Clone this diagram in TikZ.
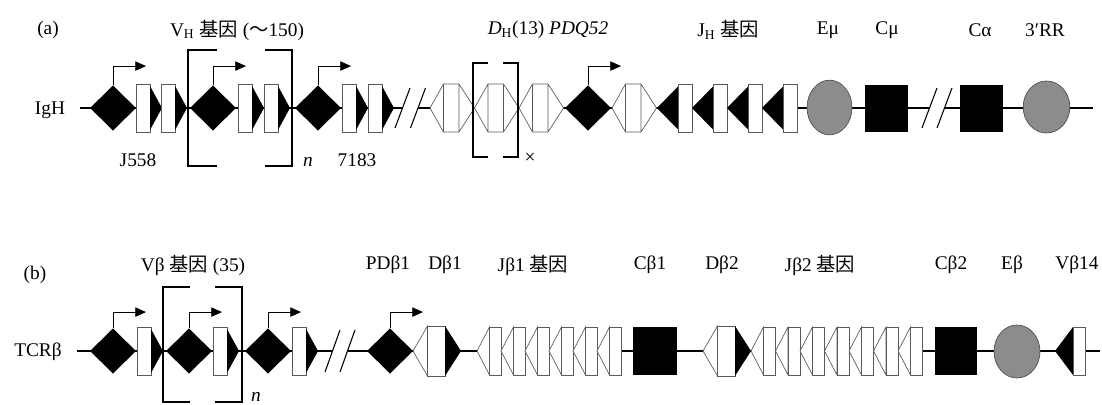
\documentclass[tikz,border=0pt]{standalone}
\usepackage{fontspec}
\setmainfont{Liberation Serif}
\newfontfamily\cjk{Noto Sans CJK SC}
\usetikzlibrary{arrows.meta,positioning,shapes.geometric}
\definecolor{EnhGray} {HTML}{8C8C8C}
\definecolor{SegLine} {HTML}{5A5A5A}

\tikzset{
  backbone/.style={line width=0.9pt},
  brkmark/.style={line width=0.8pt},
  bracket/.style={line width=0.9pt},
  dline/.style={draw=SegLine,fill=white,line width=0.5pt},
  vdiamond/.style={diamond,fill=black,inner sep=0pt,minimum width=34.5pt,minimum height=34pt},
  exonbox/.style={draw=SegLine,fill=white,line width=0.5pt,inner sep=0pt,
                  minimum width=10.5pt,minimum height=36pt},
  cblock/.style={fill=black,inner sep=0pt,minimum width=32.5pt,minimum height=35.5pt},
  enhancer/.style={ellipse,draw=black!70,fill=EnhGray,line width=0.5pt,inner sep=0pt,
                   minimum width=34pt,minimum height=40pt},
  promoter/.style={line width=0.6pt,-{Triangle[length=8pt,width=7pt]}},
  lbl/.style={font=\fontsize{14.5}{16}\selectfont,inner sep=0pt},
}

% V exon: box then black triangle pointing right
\newcommand{\vexon}[3]{%
  \node[exonbox] (#1) at (#2+7,#3) {};
  \fill (#2+14,#3-22) -- (#2+26,#3) -- (#2+14,#3+22) -- cycle;}
% D segment of IgH: open hexagon
\newcommand{\dhseg}[2]{%
  \draw[dline] (#1,#2) -- (#1+13.5,#2-24) -- (#1+29,#2-24) -- (#1+44.5,#2)
    -- (#1+29,#2+24) -- (#1+13.5,#2+24) -- cycle
    (#1+13.5,#2-24) -- (#1+13.5,#2+24) (#1+29,#2-24) -- (#1+29,#2+24);}
% J segment of IgH: black triangle pointing left, then box
\newcommand{\jhseg}[3]{%
  \fill (#2,#3) -- (#2+21,#3-21.5) -- (#2+21,#3+21.5) -- cycle;
  \node[exonbox] (#1) at (#2+28,#3) {};}
% J segment of TCRb: open triangle pointing left, then box
\newcommand{\jbseg}[3]{%
  \draw[dline] (#2,#3) -- (#2+12.5,#3-24) -- (#2+12.5,#3+24) -- cycle;
  \node[exonbox,minimum width=9pt] (#1) at (#2+18.5,#3) {};}
% D segment of TCRb
\newcommand{\dbseg}[3]{%
  \draw[dline] (#2,#3) -- (#2+14.5,#3-25) -- (#2+14.5,#3+25) -- cycle;
  \node[exonbox,minimum width=13.1pt,minimum height=37.5pt] (#1) at (#2+23.25,#3) {};
  \fill (#2+32,#3-25) -- (#2+48,#3) -- (#2+32,#3+25) -- cycle;}

\begin{document}
\begin{tikzpicture}[x=0.75pt,y=-0.75pt]
  \useasboundingbox (0,0) rectangle (1102,404);

  % (a) IgH
  \coordinate (a0) at (80,108);
  \coordinate (a1) at (402.5,108);
  \coordinate (a2) at (418,108);
  \coordinate (a3) at (929.5,108);
  \coordinate (a4) at (944.5,108);
  \coordinate (a5) at (1093,108);
  \draw[backbone] (a0) -- (a1) (a2) -- (a3) (a4) -- (a5);
  \draw[brkmark] (a1) ++(-7.5,20) -- ++(15,-40);
  \draw[brkmark] (a2) ++(-7.5,20) -- ++(15,-40);
  \draw[brkmark] (a3) ++(-7.5,20) -- ++(15,-40);
  \draw[brkmark] (a4) ++(-7.5,20) -- ++(15,-40);

  \node[vdiamond] (d1) at (113,108) {};
  \vexon{v1a}{136}{108} \vexon{v1b}{161}{108}
  \node[vdiamond] (d2) at (213,108) {};
  \vexon{v2a}{238}{108} \vexon{v2b}{264}{108}
  \node[vdiamond] (d3) at (318,108) {};
  \vexon{v3a}{342}{108} \vexon{v3b}{368}{108}
  \dhseg{430}{108} \dhseg{474.5}{108} \dhseg{519}{108}
  \node[vdiamond] (d4) at (588,108) {};
  \dhseg{612}{108}
  \foreach \i in {0,...,3} {\jhseg{jh\i}{657+35*\i}{108}}
  \node[enhancer,minimum width=33.75pt,minimum height=41pt] (emu) at (829.5,107.5) {};
  \node[cblock] (cmu) at (886.5,108.5) {};
  \node[cblock] (calpha) at (981.5,108.5) {};
  \node[enhancer,minimum width=35pt,minimum height=39pt] (rr) at (1046.5,107) {};

  \foreach \d in {d1,d2,d3,d4}
    \draw[promoter] (\d.north) -- ++(0,-19) -- ++(33,0);

  \draw[bracket] (217,50) -| (188,166) -- (217,166);
  \draw[bracket] (265,50) -| (292,166) -- (265,166);
  \draw[bracket] (488,63) -| (473,157) -- (488,157);
  \draw[bracket] (503,63) -| (518,157) -- (503,157);

  \node[lbl] (alab) at (48,30) {(a)};
  \node[lbl] (vhlab) at (237,30) {V\textsubscript{H} {\cjk 基因} ({\cjk ～}150)};
  \node[lbl] (dhlab) at (548,30) {\textit{D}\textsubscript{H}(13) \textit{PDQ52}};
  \node[lbl] (jhlab) at (728,30) {J\textsubscript{H} {\cjk 基因}};
  \node[lbl] (emulab) at (828,30) {Eμ};
  \node[lbl] (cmulab) at (887,30) {Cμ};
  \node[lbl] (calab) at (980,30) {Cα};
  \node[lbl] (rrlab) at (1045,30) {3′RR};
  \node[lbl] (igh) at (50,110) {IgH};
  \node[lbl] (j558) at (138,160) {J558};
  \node[lbl] (nA) at (308,162) {\textit{n}};
  \node[lbl] (v7183) at (357,160) {7183};
  \node[lbl] (xlab) at (530,158) {×};

  % (b) TCRbeta
  \coordinate (b0) at (77,351);
  \coordinate (b1) at (332.5,351);
  \coordinate (b2) at (347.5,351);
  \coordinate (b3) at (1100,351);
  \draw[backbone] (b0) -- (b1) (b2) -- (b3);
  \draw[brkmark] (b1) ++(-7.5,21) -- ++(15,-42);
  \draw[brkmark] (b2) ++(-7.5,21) -- ++(15,-42);

  \node[vdiamond] (d5) at (113,351) {};
  \vexon{w1}{137}{351}
  \node[vdiamond] (d6) at (189,351) {};
  \vexon{w2}{213}{351}
  \node[vdiamond] (d7) at (268,351) {};
  \vexon{w3}{292}{351}
  \node[vdiamond] (d8) at (390,351) {};
  \dbseg{db1}{413}{351}
  \foreach \i in {0,...,5} {\jbseg{jba\i}{477+24*\i}{351}}
  \node[cblock,minimum width=33pt,minimum height=36pt] (cb1) at (655,351) {};
  \dbseg{db2}{703}{351}
  \foreach \i in {0,...,6} {\jbseg{jbb\i}{751+24.5*\i}{351}}
  \node[cblock,minimum width=32pt,minimum height=36pt] (cb2) at (956,351) {};
  \node[enhancer,minimum width=34.5pt,minimum height=39.75pt] (eb) at (1017,351.5) {};
  \fill (1055,351) -- (1073,327) -- (1073,375) -- cycle;
  \node[exonbox,minimum width=9pt] (vb14) at (1079,351) {};

  \foreach \d in {d5,d6,d7,d8}
    \draw[promoter] (\d.north) -- ++(0,-16) -- ++(33,0);

  \draw[bracket] (190,287) -| (163,402) -- (190,402);
  \draw[bracket] (215,287) -| (242,402) -- (215,402);

  \node[lbl] (blab) at (35,275) {(b)};
  \node[lbl] (vblab) at (193,265) {Vβ {\cjk 基因} (35)};
  \node[lbl] (pdblab) at (388,265) {PDβ1};
  \node[lbl] (dbalab) at (445,265) {Dβ1};
  \node[lbl] (jbalab) at (533,265) {Jβ1 {\cjk 基因}};
  \node[lbl] (cbalab) at (650,265) {Cβ1};
  \node[lbl] (dbblab) at (722,265) {Dβ2};
  \node[lbl] (jbblab) at (820,265) {Jβ2 {\cjk 基因}};
  \node[lbl] (cbblab) at (951,265) {Cβ2};
  \node[lbl] (eblab) at (1012,265) {Eβ};
  \node[lbl] (vb14lab) at (1077,265) {Vβ14};
  \node[lbl] (tcrb) at (38,352) {TCRβ};
  \node[lbl] (nB) at (256,397) {\textit{n}};
\end{tikzpicture}
\end{document}
